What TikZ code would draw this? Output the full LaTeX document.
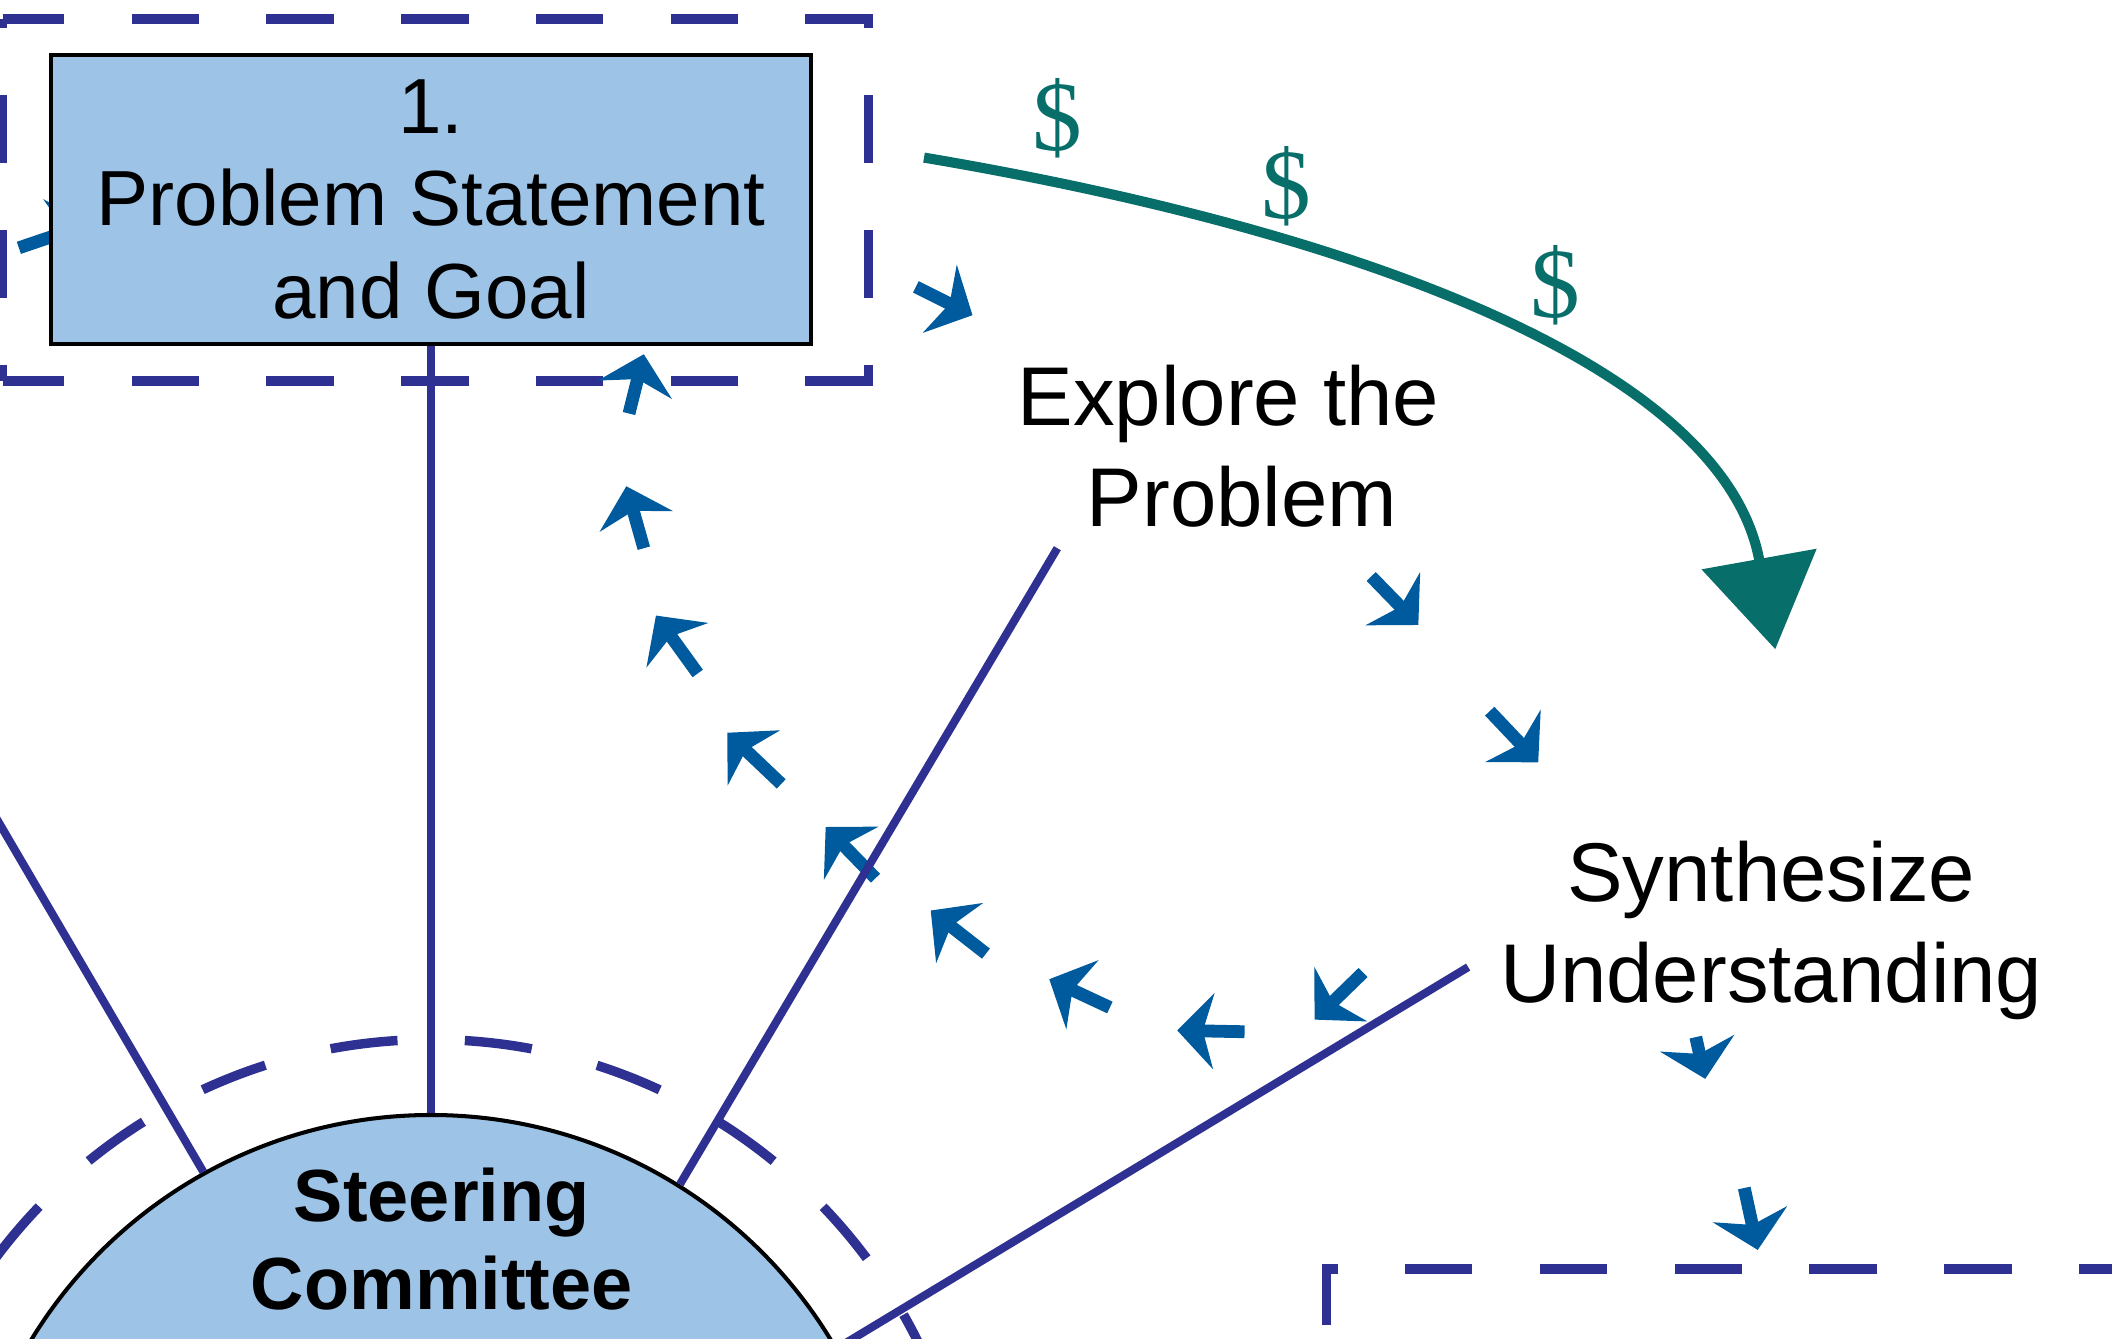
\documentclass[tikz,border=0pt]{standalone}
\usepackage{fontspec}
\setmainfont{Liberation Sans}
\newfontfamily\dollarfont{Liberation Serif}
\usetikzlibrary{arrows.meta}
\definecolor{indigoc}{RGB}{46,49,146}
\definecolor{lbluec}{RGB}{157,195,230}
\definecolor{abluec}{RGB}{0,90,158}
\definecolor{tealc}{RGB}{8,110,106}
\begin{document}
\begin{tikzpicture}[x=0.01cm,y=-0.01cm,
  dashbox/.style={draw=indigoc,line width=0.07cm,dash pattern=on 0.5cm off 0.5cm},
  spoke/.style={draw=indigoc,line width=0.06cm},
  barrow/.style={draw=abluec,line width=0.095cm,-{Stealth[length=0.27cm,width=0.56cm,inset=0.08cm]}},
  lbl/.style={align=center,font=\fontsize{17.6}{21.3}\selectfont,inner sep=0pt},
  dollar/.style={text=tealc,font=\dollarfont\fontsize{21}{21}\selectfont,inner sep=0pt}]
\useasboundingbox (0,0) rectangle (1568,994);
\clip (0,0) rectangle (1568,994);
% dashed frame round step 1
\coordinate (fa) at (2,14);
\coordinate (fb) at (645,14);
\coordinate (fc) at (645,283);
\coordinate (fd) at (2,283);
\draw[dashbox] ([xshift=0.03cm]fb) -- (fa);
\draw[dashbox,dash phase=0.38cm] (fc) -- (fb);
\draw[dashbox] ([xshift=0.03cm]fc) -- (fd);
\draw[dashbox,dash phase=0.38cm] (fd) -- (fa);
% dashed frame lower right
\draw[dashbox,dash phase=0.84cm] (985,1100) -- (985,942) -- (1700,942);
% dashed ring round the committee
\draw[dashbox,dash phase=0.42cm] (320,1175) circle[radius=4.03cm];
% small blue arrows
\foreach \ax/\ay/\bx/\by in {14/184/67/166, 680/213/722/234, 1018/428/1053/464,
  1106/528/1142/566, 1259/770/1266/801, 1295/882/1305/928, 1012/722/976/757,
  924/766/874/765, 824/748/779/727, 732/708/691/676, 650/652/613/614,
  580/582/540/544, 518/500/487/457, 478/407/465/361, 467/307/478/263}
  \draw[barrow] (\ax,\ay) -- (\bx,\by);
% nodes
\node[draw=black,line width=0.03cm,fill=lbluec,minimum width=5.64cm,minimum height=2.14cm,
  align=center,font=\fontsize{16.5}{19.6}\selectfont,inner sep=0pt] (goal) at (320,148)
  {1.\\Problem Statement\\and Goal};
\node[circle,draw=black,line width=0.03cm,fill=lbluec,minimum size=6.94cm,inner sep=0pt] (sc) at (320,1175) {};
\node[align=center,font=\bfseries\fontsize{15.6}{18.5}\selectfont,inner sep=0pt] (sclbl) at (328,920) {Steering\\Committee};
\node[lbl] (explore) at (912,331) {Explore the\\\hspace{0.2cm}Problem};
\node[lbl] (synth) at (1315,691) {Synthesize\\Understanding};
% spokes
\coordinate (leftend) at (-27,566);
\coordinate (explend) at (785,407);
\coordinate (synthend) at (1090,718);
\draw[spoke] (sc.north) -- (goal.south);
\draw[spoke] (sc.119.5) -- (leftend);
\draw[spoke] (sc.58.7) -- (explend);
\draw[spoke] (sc.30.6) -- (synthend);
% teal money arrow
\coordinate (cs) at (686,117);
\coordinate (ce) at (1318,482);
\draw[draw=tealc,line width=0.075cm,-{Triangle[length=0.68cm,width=0.85cm]}] (cs) .. controls (1000,170) and (1280,270) .. (ce);
\node[dollar] (d1) at (785,88) {\$};
\node[dollar] (d2) at (955,138) {\$};
\node[dollar] (d3) at (1155,212) {\$};
\end{tikzpicture}
\end{document}
